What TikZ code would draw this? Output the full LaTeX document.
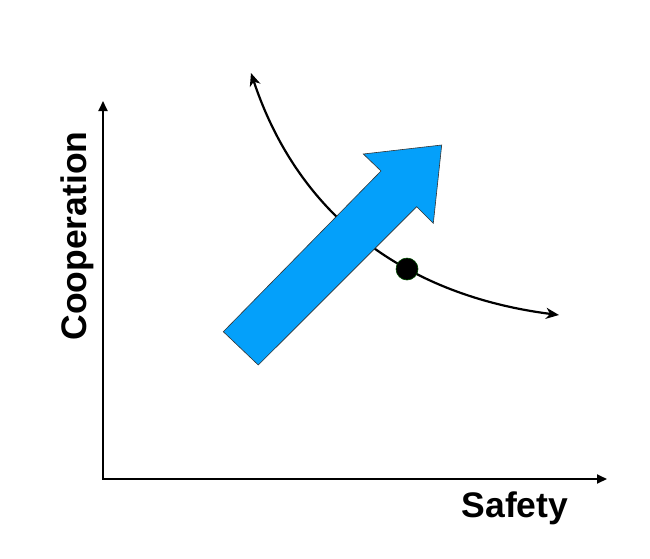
\documentclass[tikz,border=0pt]{standalone}
\usepackage{fontspec}
\setmainfont{Liberation Sans}
\usetikzlibrary{arrows.meta}
\definecolor{arrowblue}{RGB}{4,160,250}
\tikzset{
  axis/.style={line width=1.8pt, -{Triangle[length=10pt,width=9pt]}},
  tradeoff/.style={line width=2.2pt, {Stealth[length=13pt,width=11pt,inset=4pt]}-{Stealth[length=13pt,width=11pt,inset=4pt]}},
  bigarrow/.style={fill=arrowblue, draw=black!80, line width=0.6pt, line join=miter},
  lbl/.style={font=\bfseries\fontsize{35.5}{40}\selectfont, inner sep=0pt},
  dot/.style={circle, fill=black, draw=black!70!green, line width=0.6pt, minimum size=22pt, inner sep=0pt}
}
\begin{document}
\begin{tikzpicture}[x=1pt,y=-1pt]
\useasboundingbox (0,0) rectangle (650,558);
% axes
\coordinate (O) at (103,479);
\coordinate (ytip) at (103,101);
\coordinate (xtip) at (607,479);
\draw[axis] (O) -- (ytip);
\draw[axis] ([xshift=-0.9pt]O) -- (xtip);
\node[lbl, rotate=90, anchor=base] (coop) at (86,236) {Cooperation};
\node[lbl, anchor=base] (safety) at (515,517) {Safety};
% trade-off curve
\coordinate (cstart) at (559,315);
\coordinate (cend) at (251,73);
\draw[tradeoff] (cstart) .. controls (410,296) and (300,220) .. (cend);
% big blue arrow
\draw[bigarrow] (223.3,331.7) coordinate (a1) -- (381,171) coordinate (a2)
  -- (363.3,154) coordinate (a3) -- (441.7,145) coordinate (a4)
  -- (433.3,223.3) coordinate (a5) -- (416.7,206.7) coordinate (a6)
  -- (258.3,365) coordinate (a7) -- cycle;
% point
\node[dot] (pt) at (407,269) {};
\end{tikzpicture}
\end{document}
